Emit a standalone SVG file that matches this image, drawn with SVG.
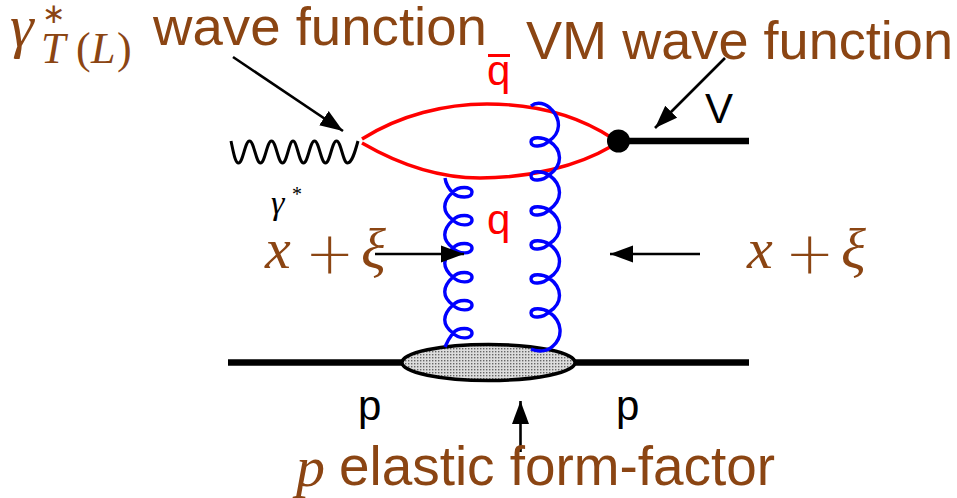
<svg xmlns="http://www.w3.org/2000/svg" width="957" height="498" viewBox="0 0 957 498">
<style>
.lab{font-family:"Liberation Sans",Arial,sans-serif;fill:#8b4513}
.math{font-family:"Liberation Serif","Times New Roman",serif;fill:#8b4513}
.plus{font-family:"DejaVu Sans",sans-serif;font-weight:200;fill:#8b4513;font-size:59px}
.it{font-style:italic}
.bk{font-family:"Liberation Sans",Arial,sans-serif;fill:#000;font-size:42px}
.rd{font-family:"Liberation Sans",Arial,sans-serif;fill:#f00;font-size:42px}
.gl{fill:none;stroke:#00f;stroke-width:3.4}
.q{fill:none;stroke:#f00;stroke-width:3.4}
.ar{fill:none;stroke:#000;stroke-width:2.6;marker-end:url(#head)}
.thick{fill:none;stroke:#000;stroke-width:6.5}
</style>
<defs>
<marker id="head" markerUnits="userSpaceOnUse" markerWidth="26" markerHeight="20" refX="23" refY="9" orient="auto">
<path d="M0,0.5 L23,9 L0,17.5 Z" fill="#000"/>
</marker>
<pattern id="stip" width="3" height="3" patternUnits="userSpaceOnUse">
<rect width="3" height="3" fill="#dcdcdc"/><rect width="1.4" height="1.4" fill="#666"/>
</pattern>
</defs>
<g id="blob"><ellipse cx="488.500" cy="362.500" rx="86.500" ry="18" fill="url(#stip)" stroke="#000" stroke-width="3.4"/></g>
<g id="connectors">
<path id="photon" fill="none" stroke="#000" stroke-width="3" d="M231,141 C233,150 235,163 238.500,163 C243,163 245,141 249.500,141 C254,141 256,163 260.500,163 C265,163 267,141 271.500,141 C276,141 278,163 282.500,163 C287,163 289,141 293,141 C297,141 299,163 303.500,163 C308,163 310,141 314.500,141 C319,141 321,163 325.500,163 C330,163 332,141 336.500,141 C341,141 343,163 347.500,163 C352,163 355,152 358,141"/>
<path id="quark-top" class="q" d="M362,139 C400,115 445,104 487,104 C540,104 580,117 612,138"/>
<path id="quark-bottom" class="q" d="M362,143 C400,165 440,178 480,178 C530,178 578,166 612,146"/>
<path id="gluon-left" class="gl" d="M445,178 C446,185 450,190 453,193 C458,198 472,199 472,192 C472,186 458,186 453,192 C442,202 442,212 453,220 C458,226 472,227 472,220 C472,214 458,214 453,220 C442,230 442,240 453,248 C458,254 472,255 472,248 C472,242 458,242 453,248 C442,258 442,268 453,277 C458,283 472,284 472,277 C472,271 458,271 453,277 C442,287 442,297 453,305 C458,311 472,312 472,305 C472,299 458,299 453,305 C442,315 442,325 453,333 C458,339 472,340 472,333 C472,327 458,327 453,333 C450,337 447,342 445,347"/>
<path id="gluon-right" class="gl" d="M531,106 C537,101 546,103 552,110 C561,120 561,133 549,141 C543,147 531,148 531,142 C531,136 543,137 549,141 C563,150 563,165 549,175 C543,181 531,182 531,176 C531,170 543,171 549,175 C563,185 563,200 549,210 C543,216 531,217 531,211 C531,205 543,206 549,210 C563,220 563,235 549,244 C543,250 531,251 531,245 C531,239 543,240 549,244 C563,254 563,269 549,278 C543,284 531,285 531,279 C531,273 543,274 549,278 C563,288 563,303 549,312 C543,318 531,319 531,313 C531,307 543,308 549,312 C563,322 563,337 553,346 C547,352 537,352 531,349"/>
<path id="vm-line" class="thick" d="M625,141 H749"/>
<path id="p-in" class="thick" d="M228,362.500 H402"/>
<path id="p-out" class="thick" d="M575,362.500 H749"/>
<path class="ar" d="M233,57 L343,131"/>
<path class="ar" d="M725,58 L655,128"/>
<path class="ar" d="M375,254 H464"/>
<path class="ar" d="M700,254 H610"/>
<path class="ar" d="M520.500,452 V401"/>
</g>
<g id="vertex"><circle cx="618.500" cy="141" r="11.500" fill="#000"/></g>
<g id="labels">
<text class="lab" x="153" y="45" font-size="54.500" textLength="334" lengthAdjust="spacingAndGlyphs">wave function</text>
<text class="lab" x="526" y="59" font-size="54.500" textLength="427" lengthAdjust="spacingAndGlyphs">VM wave function</text>
<text class="math it" x="10" y="46" font-size="60">γ</text>
<text class="math" x="42" y="23" font-size="28">∗</text>
<text class="math it" x="41" y="63" font-size="44">T</text>
<text class="math" x="76" y="63" font-size="44">(</text>
<text class="math it" x="91" y="63" font-size="44">L</text>
<text class="math" x="117" y="63" font-size="44">)</text>
<text class="rd" x="487" y="85">q</text>
<rect x="488" y="54" width="22" height="3" fill="#f00"/>
<text class="rd" x="487" y="234">q</text>
<text class="bk" x="705" y="123">V</text>
<text class="bk" x="358" y="420">p</text>
<text class="bk" x="616" y="420">p</text>
<text x="271" y="214" font-family="Liberation Serif,serif" font-style="italic" font-size="34" fill="#000">γ</text>
<text x="292" y="201" font-family="Liberation Serif,serif" font-size="20" fill="#000">*</text>
<text class="math it" x="265" y="268" font-size="58">x</text>
<text class="plus" x="305" y="273">+</text>
<text class="math it" x="361" y="268" font-size="58">ξ</text>
<text class="math it" x="747" y="268" font-size="58">x</text>
<text class="plus" x="785" y="273">+</text>
<text class="math it" x="841" y="268" font-size="58">ξ</text>
<text class="math it" x="296" y="486" font-size="58">p</text>
<text class="lab" x="339" y="485" font-size="55" textLength="436" lengthAdjust="spacingAndGlyphs">elastic form-factor</text>
</g>
</svg>
